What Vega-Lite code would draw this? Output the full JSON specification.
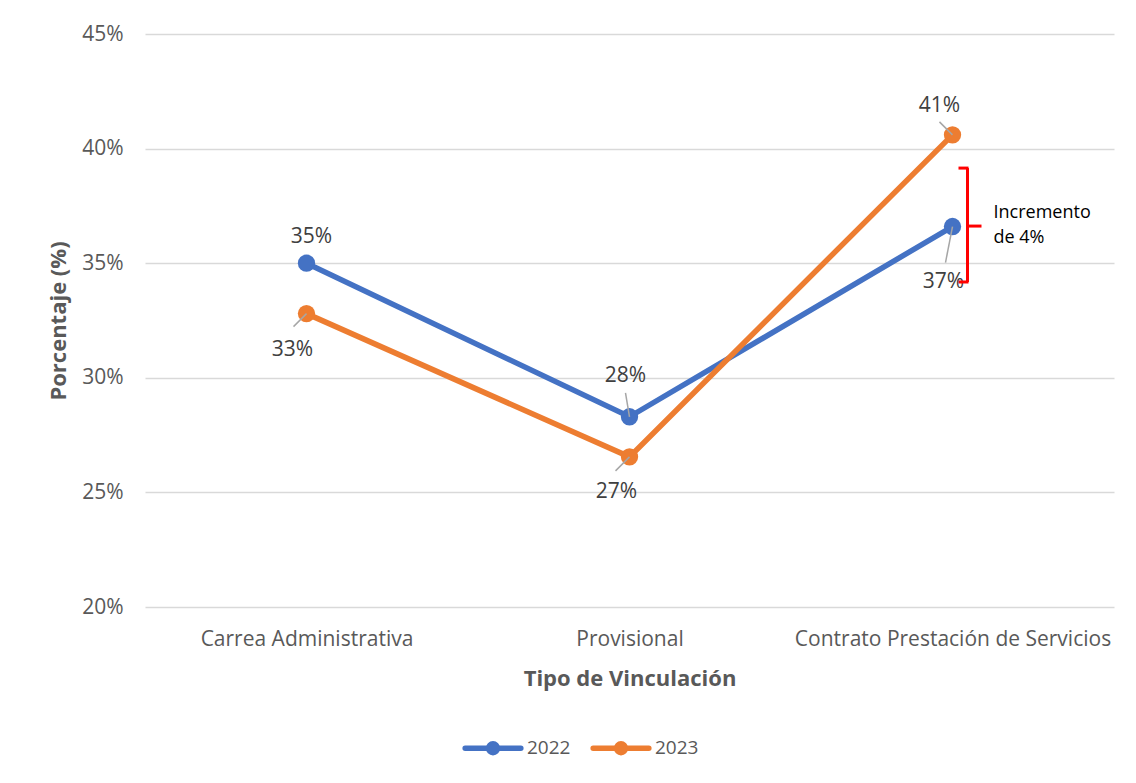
{
  "$schema": "https://vega.github.io/schema/vega-lite/v6.json",
  "width": 969,
  "height": 573,
  "autosize": {"type": "none"},
  "padding": {"left": 145, "top": 34, "right": 22, "bottom": 176},
  "background": "white",
  "config": {
    "view": {"stroke": null},
    "font": "Open Sans",
    "text": {"font": "Open Sans"}
  },
  "datasets": {
    "bracketV": [{"y1": 0.3915, "y2": 0.3418}],
    "bracketH": [{"yv": 0.3915}, {"yv": 0.3418}],
    "bracketMid": [{"yv": 0.3662, "label": "Incremento\nde 4%"}]
  },
  "data": {
    "values": [
      {"tipo": "Carrea Administrativa", "year": "2022", "value": 0.350},
      {"tipo": "Provisional", "year": "2022", "value": 0.283},
      {"tipo": "Contrato Prestación de Servicios", "year": "2022", "value": 0.366},
      {"tipo": "Carrea Administrativa", "year": "2023", "value": 0.328},
      {"tipo": "Provisional", "year": "2023", "value": 0.2655},
      {"tipo": "Contrato Prestación de Servicios", "year": "2023", "value": 0.406}
    ]
  },
  "encoding": {
    "x": {
      "field": "tipo", "type": "nominal",
      "scale": {"type": "point", "padding": 0.5, "domain": ["Carrea Administrativa", "Provisional", "Contrato Prestación de Servicios"]},
      "axis": {
        "title": "Tipo de Vinculación", "labelAngle": 0, "domain": false, "ticks": false, "labelLimit": 0,
        "labelFontSize": 21, "labelColor": "#595959", "labelPadding": 21,
        "titleFontSize": 22, "titleFontWeight": "bold", "titleColor": "#595959", "titlePadding": 19
      }
    },
    "y": {
      "field": "value", "type": "quantitative",
      "scale": {"domain": [0.2, 0.45], "nice": false, "zero": false},
      "axis": {
        "title": "Porcentaje (%)", "format": ".0%", "values": [0.2, 0.25, 0.3, 0.35, 0.4, 0.45],
        "domain": false, "ticks": false, "gridColor": "#D9D9D9", "gridWidth": 1.3,
        "labelFontSize": 21, "labelColor": "#595959", "labelPadding": 22,
        "titleFontSize": 22, "titleFontWeight": "bold", "titleColor": "#595959", "titlePadding": 11
      }
    },
    "color": {
      "field": "year", "type": "nominal",
      "scale": {"domain": ["2022", "2023"], "range": ["#4472C4", "#ED7D31"]},
      "legend": null
    }
  },
  "layer": [
    {
      "mark": {"type": "line", "strokeWidth": 5.5},
      "encoding": {
        "color": {
          "field": "year", "type": "nominal",
          "legend": {
            "title": null, "orient": "none", "direction": "horizontal",
            "legendX": 317, "legendY": 683, "padding": 0,
            "symbolType": "M-1,0L1,0M-0.16,0A0.16,0.16,0,1,0,0.16,0A0.16,0.16,0,1,0,-0.16,0",
            "symbolSize": 3100, "symbolStrokeWidth": 5.5,
            "labelFontSize": 19, "labelColor": "#595959", "labelOffset": 3, "columnPadding": 11,
            "encode": {
              "symbols": {"update": {
                "fill": {"scale": "color", "field": "value"},
                "stroke": {"scale": "color", "field": "value"},
                "strokeCap": {"value": "round"},
                "fillOpacity": {"value": 1},
                "opacity": {"value": 1}
              }}
            }
          }
        }
      }
    },
    {
      "mark": {"type": "point", "filled": true, "size": 300, "opacity": 1}
    },
    {
      "transform": [{"filter": "datum.year === '2023' && datum.tipo === 'Carrea Administrativa'"}],
      "mark": {"type": "rule", "strokeWidth": 1.5, "x2Offset": -13, "y2Offset": 13},
      "encoding": {"x2": {"field": "tipo"}, "y2": {"field": "value"}, "color": {"value": "#A6A6A6"}}
    },
    {
      "transform": [{"filter": "datum.year === '2022' && datum.tipo === 'Provisional'"}],
      "mark": {"type": "rule", "strokeWidth": 1.5, "x2Offset": -4, "y2Offset": -24},
      "encoding": {"x2": {"field": "tipo"}, "y2": {"field": "value"}, "color": {"value": "#A6A6A6"}}
    },
    {
      "transform": [{"filter": "datum.year === '2023' && datum.tipo === 'Provisional'"}],
      "mark": {"type": "rule", "strokeWidth": 1.5, "x2Offset": -14, "y2Offset": 14},
      "encoding": {"x2": {"field": "tipo"}, "y2": {"field": "value"}, "color": {"value": "#A6A6A6"}}
    },
    {
      "transform": [{"filter": "datum.year === '2023' && datum.tipo === 'Contrato Prestación de Servicios'"}],
      "mark": {"type": "rule", "strokeWidth": 1.5, "x2Offset": -13, "y2Offset": -13},
      "encoding": {"x2": {"field": "tipo"}, "y2": {"field": "value"}, "color": {"value": "#A6A6A6"}}
    },
    {
      "transform": [{"filter": "datum.year === '2022' && datum.tipo === 'Contrato Prestación de Servicios'"}],
      "mark": {"type": "rule", "strokeWidth": 1.5, "x2Offset": -7, "y2Offset": 36},
      "encoding": {"x2": {"field": "tipo"}, "y2": {"field": "value"}, "color": {"value": "#A6A6A6"}}
    },
    {
      "transform": [{"filter": "datum.year === '2022' && datum.tipo === 'Carrea Administrativa'"}],
      "mark": {"type": "text", "fontSize": 21, "baseline": "middle", "dx": 5, "dy": -26},
      "encoding": {"text": {"field": "value", "format": ".0%"}, "color": {"value": "#404040"}}
    },
    {
      "transform": [{"filter": "datum.year === '2023' && datum.tipo === 'Carrea Administrativa'"}],
      "mark": {"type": "text", "fontSize": 21, "baseline": "middle", "dx": -14, "dy": 36},
      "encoding": {"text": {"field": "value", "format": ".0%"}, "color": {"value": "#404040"}}
    },
    {
      "transform": [{"filter": "datum.year === '2022' && datum.tipo === 'Provisional'"}],
      "mark": {"type": "text", "fontSize": 21, "baseline": "middle", "dx": -4, "dy": -41},
      "encoding": {"text": {"field": "value", "format": ".0%"}, "color": {"value": "#404040"}}
    },
    {
      "transform": [{"filter": "datum.year === '2023' && datum.tipo === 'Provisional'"}],
      "mark": {"type": "text", "fontSize": 21, "baseline": "middle", "dx": -13, "dy": 35},
      "encoding": {"text": {"field": "value", "format": ".0%"}, "color": {"value": "#404040"}}
    },
    {
      "transform": [{"filter": "datum.year === '2023' && datum.tipo === 'Contrato Prestación de Servicios'"}],
      "mark": {"type": "text", "fontSize": 21, "baseline": "middle", "dx": -13, "dy": -29},
      "encoding": {"text": {"field": "value", "format": ".0%"}, "color": {"value": "#404040"}}
    },
    {
      "transform": [{"filter": "datum.year === '2022' && datum.tipo === 'Contrato Prestación de Servicios'"}],
      "mark": {"type": "text", "fontSize": 21, "baseline": "middle", "dx": -9, "dy": 55},
      "encoding": {"text": {"field": "value", "format": ".0%"}, "color": {"value": "#404040"}}
    },
    {
      "data": {"name": "bracketV"},
      "mark": {"type": "rule", "strokeWidth": 3, "xOffset": 15},
      "encoding": {
        "x": {"datum": "Contrato Prestación de Servicios", "type": "nominal"},
        "y": {"field": "y1", "type": "quantitative"},
        "y2": {"field": "y2"},
        "color": {"value": "#FF0000"}
      }
    },
    {
      "data": {"name": "bracketH"},
      "mark": {"type": "rule", "strokeWidth": 3, "xOffset": 6, "x2Offset": 16},
      "encoding": {
        "x": {"datum": "Contrato Prestación de Servicios", "type": "nominal"},
        "x2": {"datum": "Contrato Prestación de Servicios"},
        "y": {"field": "yv", "type": "quantitative"},
        "color": {"value": "#FF0000"}
      }
    },
    {
      "data": {"name": "bracketMid"},
      "mark": {"type": "rule", "strokeWidth": 3, "xOffset": 15, "x2Offset": 29},
      "encoding": {
        "x": {"datum": "Contrato Prestación de Servicios", "type": "nominal"},
        "x2": {"datum": "Contrato Prestación de Servicios"},
        "y": {"field": "yv", "type": "quantitative"},
        "color": {"value": "#FF0000"}
      }
    },
    {
      "data": {"name": "bracketMid"},
      "mark": {"type": "text", "fontSize": 18, "align": "left", "baseline": "middle", "dx": 41, "dy": -13, "lineHeight": 25, "lineBreak": "\n"},
      "encoding": {
        "x": {"datum": "Contrato Prestación de Servicios", "type": "nominal"},
        "y": {"field": "yv", "type": "quantitative"},
        "text": {"field": "label"},
        "color": {"value": "#000000"}
      }
    }
  ]
}
